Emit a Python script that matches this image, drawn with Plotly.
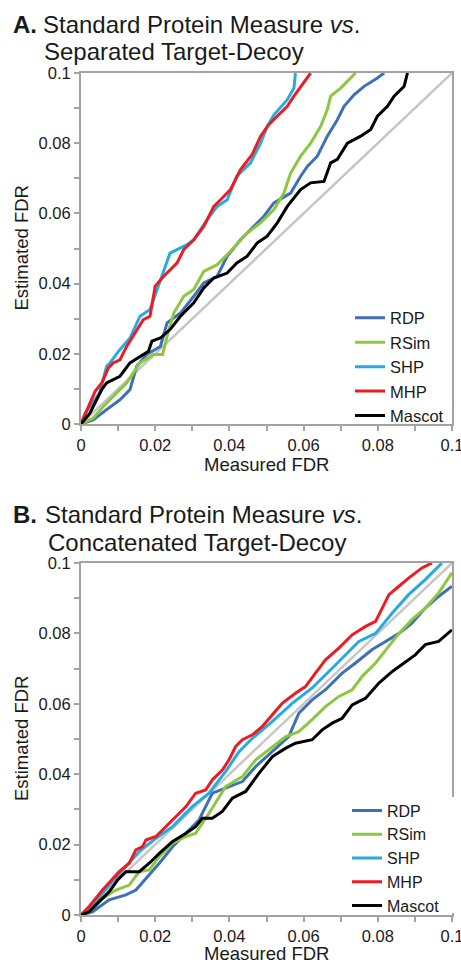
import plotly.graph_objects as go

# ---------------- Panel A: Separated Target-Decoy ----------------
a_rdp_x = [0, 0.0033, 0.0069, 0.0105, 0.0132, 0.015, 0.0177, 0.0214, 0.0232, 0.0268, 0.0304, 0.0331, 0.0367, 0.0394, 0.043, 0.0466, 0.0493, 0.052, 0.0565, 0.0592, 0.061, 0.0637, 0.0664, 0.0691, 0.0709, 0.0736, 0.0763, 0.0799, 0.0817]
a_rdp_y = [0, 0.0012, 0.0041, 0.0069, 0.0098, 0.0164, 0.0198, 0.0221, 0.0288, 0.0316, 0.0364, 0.0402, 0.0421, 0.0478, 0.0525, 0.0563, 0.0592, 0.063, 0.0658, 0.0706, 0.0734, 0.0763, 0.082, 0.0867, 0.0905, 0.0938, 0.0962, 0.0986, 0.1]

a_rsim_x = [0, 0.0033, 0.006, 0.0092, 0.0123, 0.0159, 0.0195, 0.022, 0.0232, 0.025, 0.0277, 0.0304, 0.0331, 0.0367, 0.0403, 0.0448, 0.0484, 0.052, 0.0547, 0.0565, 0.0592, 0.0619, 0.0646, 0.0664, 0.0673, 0.07, 0.0718, 0.074]
a_rsim_y = [0, 0.0017, 0.005, 0.0084, 0.0117, 0.0174, 0.0198, 0.0198, 0.025, 0.0316, 0.0364, 0.0383, 0.0435, 0.0454, 0.0492, 0.0544, 0.0573, 0.0611, 0.0658, 0.0715, 0.0763, 0.08, 0.0848, 0.0896, 0.0934, 0.0957, 0.0976, 0.1]

a_shp_x = [0, 0.0011, 0.005, 0.0069, 0.0078, 0.0101, 0.0132, 0.0159, 0.0186, 0.0205, 0.0223, 0.024, 0.0286, 0.0304, 0.034, 0.0367, 0.0394, 0.042, 0.0457, 0.0484, 0.0502, 0.052, 0.0556, 0.0574, 0.0578]
a_shp_y = [0, 0.0031, 0.0088, 0.0164, 0.0174, 0.0207, 0.0245, 0.0307, 0.0326, 0.0383, 0.044, 0.0487, 0.0511, 0.0525, 0.0582, 0.062, 0.0639, 0.0706, 0.0744, 0.08, 0.0848, 0.0881, 0.0924, 0.0957, 0.1]

a_mhp_x = [0, 0.002, 0.0038, 0.0056, 0.0074, 0.0087, 0.0105, 0.0123, 0.015, 0.0168, 0.0186, 0.02, 0.0223, 0.024, 0.0259, 0.0277, 0.0304, 0.0331, 0.0358, 0.0376, 0.0403, 0.043, 0.0461, 0.0484, 0.0506, 0.0529, 0.0556, 0.0574, 0.0601, 0.0619]
a_mhp_y = [0, 0.005, 0.0093, 0.0117, 0.016, 0.0174, 0.0183, 0.0221, 0.0269, 0.0297, 0.0307, 0.0393, 0.0421, 0.044, 0.0459, 0.0497, 0.0525, 0.0563, 0.062, 0.0639, 0.0668, 0.0725, 0.0767, 0.082, 0.0853, 0.0877, 0.0905, 0.0934, 0.0972, 0.1]

a_mascot_x = [0, 0.0024, 0.0042, 0.0056, 0.0069, 0.0087, 0.0105, 0.0132, 0.0159, 0.0182, 0.0191, 0.0214, 0.024, 0.0268, 0.0304, 0.0331, 0.0358, 0.0394, 0.042, 0.0448, 0.0475, 0.0502, 0.0529, 0.0556, 0.0592, 0.0619, 0.0655, 0.0673, 0.0691, 0.0718, 0.0754, 0.0781, 0.0799, 0.0826, 0.0844, 0.0871, 0.088]
a_mascot_y = [0, 0.0031, 0.0069, 0.0098, 0.0117, 0.0126, 0.0136, 0.0174, 0.0193, 0.0207, 0.0236, 0.0245, 0.0269, 0.0307, 0.0345, 0.0388, 0.0416, 0.043, 0.0459, 0.0478, 0.0516, 0.0535, 0.0573, 0.062, 0.0668, 0.0687, 0.0691, 0.0744, 0.0754, 0.08, 0.082, 0.0839, 0.0877, 0.0905, 0.0934, 0.0962, 0.1]

# ---------------- Panel B: Concatenated Target-Decoy ----------------
b_rdp_x = [0, 0.0031, 0.0076, 0.0121, 0.0148, 0.0184, 0.0211, 0.0247, 0.0283, 0.0318, 0.0354, 0.039, 0.0435, 0.0471, 0.0516, 0.056, 0.0587, 0.0623, 0.0659, 0.0704, 0.074, 0.0785, 0.0821, 0.0857, 0.0892, 0.0928, 0.0964, 0.1]
b_rdp_y = [0, 0.0009, 0.0043, 0.0057, 0.0071, 0.0114, 0.0147, 0.0194, 0.0232, 0.027, 0.0346, 0.036, 0.0379, 0.0422, 0.0464, 0.0507, 0.0573, 0.0611, 0.064, 0.0687, 0.0716, 0.0754, 0.0777, 0.08, 0.0829, 0.0872, 0.0905, 0.0934]

b_rsim_x = [0, 0.0022, 0.0058, 0.0094, 0.013, 0.0157, 0.0184, 0.0211, 0.0247, 0.0283, 0.0309, 0.0345, 0.039, 0.0435, 0.0471, 0.0516, 0.0552, 0.0587, 0.0623, 0.0659, 0.0695, 0.0731, 0.0758, 0.0794, 0.083, 0.0857, 0.0892, 0.0928, 0.0964, 0.1]
b_rsim_y = [0, 0.0009, 0.0047, 0.0071, 0.0085, 0.0123, 0.0128, 0.0166, 0.0204, 0.0223, 0.0232, 0.0289, 0.0365, 0.0393, 0.0441, 0.0479, 0.0507, 0.0521, 0.0555, 0.0592, 0.0621, 0.064, 0.0678, 0.0716, 0.0763, 0.08, 0.0839, 0.0872, 0.0915, 0.0972]

b_shp_x = [0, 0.0031, 0.0076, 0.0121, 0.0157, 0.0202, 0.0247, 0.03, 0.0345, 0.039, 0.0426, 0.0462, 0.0516, 0.057, 0.0623, 0.0677, 0.0713, 0.0749, 0.0794, 0.0839, 0.0883, 0.0928, 0.0973]
b_shp_y = [0, 0.0028, 0.0085, 0.0137, 0.018, 0.0218, 0.0251, 0.0308, 0.0346, 0.0408, 0.0464, 0.0502, 0.055, 0.0602, 0.0645, 0.0701, 0.0739, 0.0777, 0.08, 0.0858, 0.091, 0.0953, 0.1]

b_mhp_x = [0, 0.0022, 0.0058, 0.0085, 0.0103, 0.013, 0.0148, 0.0166, 0.0175, 0.0202, 0.0229, 0.0256, 0.0283, 0.0309, 0.0336, 0.0354, 0.0381, 0.0399, 0.0417, 0.0435, 0.0462, 0.0489, 0.0516, 0.0543, 0.0578, 0.0605, 0.0632, 0.0659, 0.0695, 0.0731, 0.0767, 0.0794, 0.0812, 0.083, 0.0857, 0.0883, 0.0919, 0.0946]
b_mhp_y = [0, 0.0024, 0.0071, 0.0104, 0.0123, 0.0147, 0.0185, 0.0194, 0.0213, 0.0223, 0.0251, 0.028, 0.0308, 0.0346, 0.0355, 0.0384, 0.0412, 0.0441, 0.0479, 0.0498, 0.0512, 0.0536, 0.0569, 0.0602, 0.063, 0.0649, 0.0687, 0.0725, 0.0758, 0.0796, 0.082, 0.0834, 0.0872, 0.091, 0.0934, 0.0957, 0.0986, 0.1]

b_mascot_x = [0, 0.0022, 0.0049, 0.0076, 0.0099, 0.0121, 0.0157, 0.0184, 0.0211, 0.0247, 0.0283, 0.0309, 0.0327, 0.0354, 0.0381, 0.0408, 0.0444, 0.048, 0.0516, 0.0552, 0.0578, 0.0623, 0.065, 0.0677, 0.0704, 0.0731, 0.0767, 0.0803, 0.0839, 0.0874, 0.0901, 0.0928, 0.0964, 0.1]
b_mascot_y = [0, 0.0009, 0.0038, 0.0066, 0.01, 0.0123, 0.0123, 0.0147, 0.0175, 0.0209, 0.0232, 0.0251, 0.0275, 0.0275, 0.0294, 0.0332, 0.0351, 0.0403, 0.045, 0.0474, 0.0488, 0.0498, 0.0526, 0.0545, 0.0559, 0.0597, 0.0616, 0.0659, 0.0692, 0.072, 0.0739, 0.0768, 0.0777, 0.081]

diag_x = [0, 0.1]
diag_y = [0, 0.1]

series_names = ["RDP", "RSim", "SHP", "MHP", "Mascot"]
series_colors = ["#3f6fb6", "#8dc63f", "#27aae1", "#ed1c24", "#000000"]

panel_a = [(a_rdp_x, a_rdp_y), (a_rsim_x, a_rsim_y), (a_shp_x, a_shp_y), (a_mhp_x, a_mhp_y), (a_mascot_x, a_mascot_y)]
panel_b = [(b_rdp_x, b_rdp_y), (b_rsim_x, b_rsim_y), (b_shp_x, b_shp_y), (b_mhp_x, b_mhp_y), (b_mascot_x, b_mascot_y)]

W, H = 461, 964
FONT = "Liberation Sans, Arial, sans-serif"
AXIS_GRAY = "#a3a3a3"

def px(xp):
    return xp / W

def py(yp):
    return 1 - yp / H

fig = go.Figure()

for xa, ya, panel, leg in (("x", "y", panel_a, "legend"), ("x2", "y2", panel_b, "legend2")):
    fig.add_trace(go.Scatter(x=diag_x, y=diag_y, mode="lines", xaxis=xa, yaxis=ya,
                             line=dict(color="#c6c6c6", width=2.5), showlegend=False,
                             hoverinfo="skip"))
    for name, color, (sx, sy) in zip(series_names, series_colors, panel):
        fig.add_trace(go.Scatter(x=sx, y=sy, mode="lines", name=name, xaxis=xa, yaxis=ya,
                                 line=dict(color=color, width=3), legend=leg))

axis_common = dict(
    range=[0, 0.1], dtick=0.02, tick0=0, showgrid=False, zeroline=False,
    showline=True, linecolor=AXIS_GRAY, linewidth=2, mirror=True,
    ticks="outside", ticklen=5, tickwidth=2, tickcolor=AXIS_GRAY,
    tickfont=dict(family=FONT, size=16.5, color="#1a1a1a"),
    minor=dict(dtick=0.01, tick0=0, ticks="outside", ticklen=5, tickwidth=2, tickcolor=AXIS_GRAY),
    fixedrange=True, automargin=False, ticklabeloverflow="allow",
)

xdom = [px(81), px(452)]
fig.update_layout(
    width=W, height=H,
    margin=dict(l=0, r=0, t=0, b=0, autoexpand=False),
    paper_bgcolor="white", plot_bgcolor="white",
    font=dict(family=FONT, color="#1a1a1a"),
    xaxis=dict(domain=xdom, anchor="y", **axis_common),
    yaxis=dict(domain=[py(424), py(73)], anchor="x", **axis_common),
    xaxis2=dict(domain=xdom, anchor="y2", **axis_common),
    yaxis2=dict(domain=[py(915), py(563)], anchor="x2", **axis_common),
    legend=dict(x=px(350), y=py(300.5), xanchor="left", yanchor="top",
                bgcolor="rgba(255,255,255,0)", font=dict(family=FONT, size=16.5, color="#1a1a1a"),
                itemwidth=30, tracegroupgap=0),
    legend2=dict(x=px(347), y=py(793.5), xanchor="left", yanchor="top",
                 bgcolor="rgba(255,255,255,0)", font=dict(family=FONT, size=16, color="#1a1a1a"),
                 itemwidth=30, tracegroupgap=0),
    showlegend=True,
    shapes=[dict(type="rect", xref="paper", yref="paper", x0=px(448), x1=px(456),
                 y0=py(913), y1=py(797), fillcolor="white", line=dict(width=0), layer="above")],
)

TITLE_FS = 24
ann = []
def text(x, y, s, size, xanchor="left", yanchor="middle", angle=0):
    ann.append(dict(x=px(x), y=py(y), xref="paper", yref="paper", text=s, showarrow=False,
                    xanchor=xanchor, yanchor=yanchor, textangle=angle,
                    font=dict(family=FONT, size=size, color="#1a1a1a")))

# Panel titles
text(11, 24.5, "<b>A.</b>", TITLE_FS)
text(41, 24.5, "Standard Protein Measure <i>vs</i>.", TITLE_FS)
text(42, 51, "Separated Target-Decoy", TITLE_FS)
text(11, 514.5, "<b>B.</b>", TITLE_FS)
text(43, 514.5, "Standard Protein Measure <i>vs</i>.", TITLE_FS)
text(46, 542, "Concatenated Target-Decoy", TITLE_FS)

# Axis titles
AX_FS = 18.5
text(266.5, 464, "Measured FDR", AX_FS, xanchor="center")
text(266.5, 953, "Measured FDR", AX_FS, xanchor="center")
text(21, 248.5, "Estimated FDR", AX_FS, xanchor="center", angle=-90)
text(21, 739, "Estimated FDR", AX_FS, xanchor="center", angle=-90)

fig.update_layout(annotations=ann)

fig.write_html(
    "out.html",
    config={"displayModeBar": False},
    post_script="document.body.style.margin='0';document.body.style.overflow='hidden';",
)
